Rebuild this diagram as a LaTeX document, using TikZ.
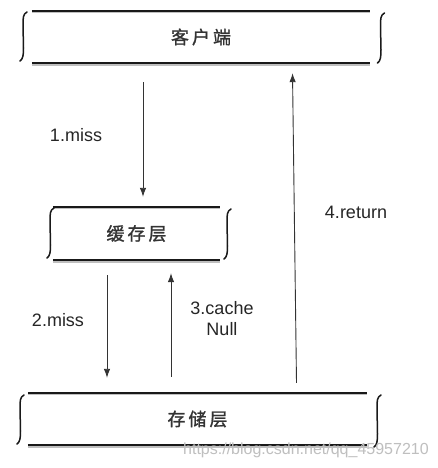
\documentclass[tikz,border=0pt]{standalone}
\usepackage{fontspec}
\setmainfont{Liberation Sans}
\newfontfamily\cjk[FakeBold=1.2]{Noto Sans CJK SC}
\usetikzlibrary{arrows.meta}
\newcommand\wavybrace[3]{%
  \draw[bracestyle] ({#1+4},{#2}) .. controls ({#1},{#2+2}) and ({#1},{#2+6}) .. ({#1},{#2+13})
    -- ({#1+0.5},{#3-13}) .. controls ({#1+0.5},{#3-6}) and ({#1},{#3-2}) .. ({#1-3},{#3});}
\tikzset{
  layer/.style={draw=none,inner sep=0pt,font=\cjk\fontsize{18}{21}\selectfont,text=black!80},
  lbl/.style={inner sep=0pt,font=\fontsize{18}{21}\selectfont,text=black!85,align=center},
  hline/.style={line width=2.3pt,black!90},
  hshadow/.style={line width=2pt,black!25},
  bracestyle/.style={line width=1.5pt,black!90,line cap=round},
  arr/.style={line width=0.9pt,black!80,-{Latex[length=9pt,width=6.5pt]}},
}
\begin{document}
\begin{tikzpicture}[x=1pt,y=-1pt]
\useasboundingbox[fill=white] (0,0) rectangle (437,468);
% layer nodes
\node[layer,minimum width=338pt,minimum height=52pt] (client) at (201,37) {客\hspace{3pt}户\hspace{3pt}端};
\node[layer,minimum width=167pt,minimum height=53pt] (cache) at (136.5,233.5) {缓\hspace{3pt}存\hspace{3pt}层};
\node[layer,minimum width=339pt,minimum height=52pt] (storage) at (197.5,419) {存\hspace{3pt}储\hspace{3pt}层};
% lines of the layers
\foreach \n in {client,cache,storage}{
  \draw[hshadow] ([yshift=-1.6pt]\n.north west) -- ([yshift=-1.6pt]\n.north east);
  \draw[hshadow] ([yshift=-1.6pt]\n.south west) -- ([yshift=-1.6pt]\n.south east);
  \draw[hline] (\n.north west) -- (\n.north east);
  \draw[hline] (\n.south west) -- (\n.south east);
}
% braces
\wavybrace{23}{12}{61}
\wavybrace{380.5}{13}{63}
\wavybrace{50}{208}{258}
\wavybrace{227}{209}{259}
\wavybrace{20}{395}{444}
\wavybrace{377}{395}{447}
% connector columns
\coordinate (c1) at (143,0);
\coordinate (c2) at (107,0);
\coordinate (c3) at (171,0);
\coordinate (c4t) at (292.5,0);
\coordinate (c4b) at (296.5,0);
\draw[arr] ([yshift=-19pt]client.south -| c1) -- ([yshift=10pt]cache.north -| c1);
\draw[arr] ([yshift=-15pt]cache.south -| c2) -- ([yshift=15pt]storage.north -| c2);
\draw[arr] ([yshift=16pt]storage.north -| c3) -- ([yshift=-13pt]cache.south -| c3);
\draw[arr] ([yshift=10pt]storage.north -| c4b) -- ([yshift=-10pt]client.south -| c4t);
% labels
\node[lbl] (l1) at (76,135) {1.miss};
\node[lbl] (l2) at (58,320) {2.miss};
\node[lbl] (l3) at (222,319) {3.cache\\Null};
\node[lbl] (l4) at (356,212) {4.return};
% watermark
\node[anchor=west,inner sep=0pt,font=\fontsize{16}{18}\selectfont,text=black!25] (wm) at (183,450) {https://blog.csdn.net/qq\_45957210};
\end{tikzpicture}
\end{document}
